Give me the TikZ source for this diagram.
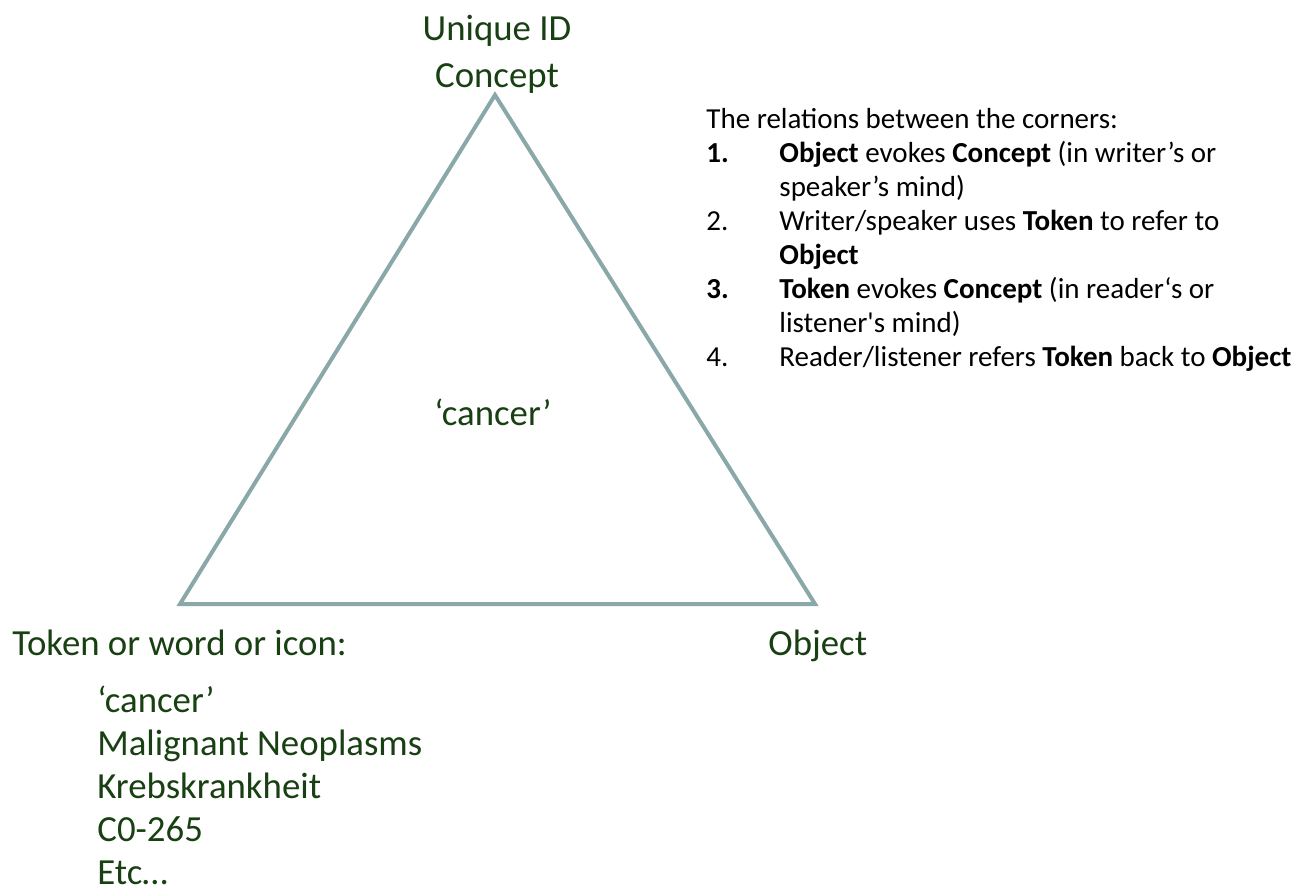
\documentclass[tikz,border=0pt]{standalone}
\usepackage{fontspec}
\setmainfont{Carlito}
\usepackage{array}
\definecolor{labelgreen}{RGB}{24,64,18}
\definecolor{triangleline}{RGB}{138,168,168}
\tikzset{
  corner/.style={text=labelgreen, font=\fontsize{18.4}{21.5}\selectfont, inner sep=0pt},
  relation/.style={font=\fontsize{14.5}{17}\selectfont, inner sep=0pt, anchor=north west}
}
\begin{document}
\begin{tikzpicture}[x=0.5pt, y=-0.5pt]
  \useasboundingbox (0,0) rectangle (1304,889);
  %corners of the triangle
  \coordinate (apex) at (495,95);
  \coordinate (tokencorner) at (180,604);
  \coordinate (objectcorner) at (815,604);
  \draw [triangleline, line width=2pt, line join=miter]
        (apex) -- (tokencorner) -- (objectcorner) -- cycle;
  %labels at the corners
  \node [corner, anchor=base] (uniqueid) at (497,40) {Unique ID};
  \node [corner, anchor=base] (concept) at (497,87) {Concept};
  \node [corner, anchor=base] (inside) at (493,425) {‘cancer’};
  \node [corner, anchor=base west] (token) at (12,655) {Token or word or icon:};
  \node [corner, anchor=base west] (object) at (768,655) {Object};
  %examples of tokens
  \node [corner, anchor=base west, align=left] (examples) at (97,884)
        {‘cancer’\\ Malignant Neoplasms\\ Krebskrankheit\\ C0-265\\ Etc\ldots};
  %relations between the corners
  \node [relation] (relations) at (706,104) {%
    \begin{tabular}{@{}p{36.5pt}@{}l@{}}
      \multicolumn{2}{@{}l@{}}{The relations between the corners:}\\
      \textbf{1.} & \textbf{Object} evokes \textbf{Concept} (in writer’s or\\
                  & speaker’s mind)\\
      2.          & Writer/speaker uses \textbf{Token} to refer to\\
                  & \textbf{Object}\\
      \textbf{3.} & \textbf{Token} evokes \textbf{Concept} (in reader‘s or\\
                  & listener\textquotesingle s mind)\\
      4.          & Reader/listener refers \textbf{Token} back to \textbf{Object}
    \end{tabular}};
\end{tikzpicture}
\end{document}
